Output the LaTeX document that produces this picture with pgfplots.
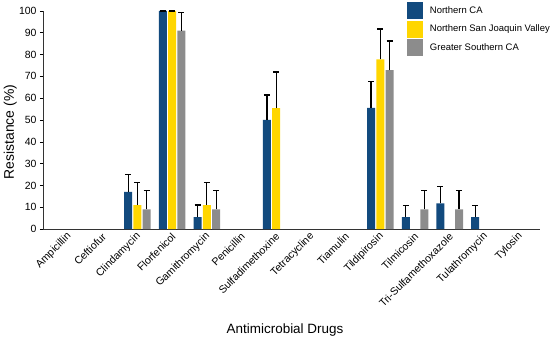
\documentclass[border=0pt]{standalone}
\usepackage{pgfplots}
\pgfplotsset{compat=1.18}
\usepackage{fontspec}
\setmainfont{Liberation Sans}
\definecolor{cblue}{HTML}{124A7E}
\definecolor{cyellow}{HTML}{FFD600}
\definecolor{cgray}{HTML}{8C8C8C}
\begin{document}
\begin{tikzpicture}
\useasboundingbox (0,0) rectangle (550bp,342bp);
\begin{axis}[
  at={(43bp,113bp)}, anchor=south west,
  scale only axis, width=497bp, height=218bp,
  xmin=-0.72, xmax=13.6, ymin=0, ymax=100,
  axis x line*=bottom, axis y line*=left,
  axis line style={line width=0.8pt, -, black!80},
  ybar, bar width=8bp,
  xtick={0,...,13},
  xticklabels={Ampicillin,Ceftiofur,Clindamycin,Florfenicol,Gamithromycin,Penicillin,Sulfadimethoxine,Tetracycline,Tiamulin,Tildipirosin,Tilmicosin,Tri-Sulfamethoxazole,Tulathromycin,Tylosin},
  x tick label style={rotate=45, anchor=east, font=\fontsize{10.6}{12}\selectfont, yshift=-3bp, xshift=2.5bp},
  major x tick style={draw=none},
  ytick={0,10,...,100},
  y tick label style={font=\fontsize{10.5}{12}\selectfont},
  /pgf/number format/assume math mode=true,
  tick align=outside, major tick length=3bp,
  ytick style={line width=0.6pt, black},
  xlabel={Antimicrobial Drugs},
  xlabel style={at={(axis description cs:0.487,-0.463)}, anchor=center, font=\fontsize{13.5}{15}\selectfont},
  ylabel={Resistance (\%)},
  ylabel style={at={(axis description cs:-0.066,0.445)}, anchor=center, font=\fontsize{14}{16}\selectfont},
  clip=false,
  legend style={at={(axis description cs:0.732,1.041)}, anchor=north west, draw=none, fill=none,
    font=\fontsize{9.5}{11}\selectfont, row sep=1.5bp, column sep=5bp, inner sep=0pt, cells={anchor=west}},
  legend image code/.code={\fill[#1] (0bp,-8.5bp) rectangle (16bp,8.5bp);},
  error bars/y dir=plus, error bars/y explicit,
  error bars/error bar style={black, line width=1.2pt},
  error bars/error mark options={black, rotate=90, mark size=3bp, line width=1.2pt},
]
\addplot[fill=cblue, draw=none, bar shift=-9.3bp] coordinates {
 (2,17) +- (0,8)
 (3,100) +- (0,0)
 (4,5.5) +- (0,5.5)
 (6,50) +- (0,11.5)
 (9,55.6) +- (0,12)
 (10,5.4) +- (0,5.3)
 (11,11.8) +- (0,7.8)
 (12,5.4) +- (0,5.3)
};
\addplot[fill=cyellow, draw=none, bar shift=0bp] coordinates {
 (2,11) +- (0,10.5)
 (3,100) +- (0,0)
 (4,11) +- (0,10.5)
 (6,55.5) +- (0,16.5)
 (9,77.8) +- (0,13.9)
};
\addplot[fill=cgray, draw=none, bar shift=9.3bp] coordinates {
 (2,9) +- (0,8.6)
 (3,91) +- (0,8.3)
 (4,9) +- (0,8.6)
 (9,72.9) +- (0,13.3)
 (10,9) +- (0,8.6)
 (11,9) +- (0,8.6)
};
\legend{Northern CA, Northern San Joaquin Valley, Greater Southern CA}
\end{axis}
\end{tikzpicture}
\end{document}
